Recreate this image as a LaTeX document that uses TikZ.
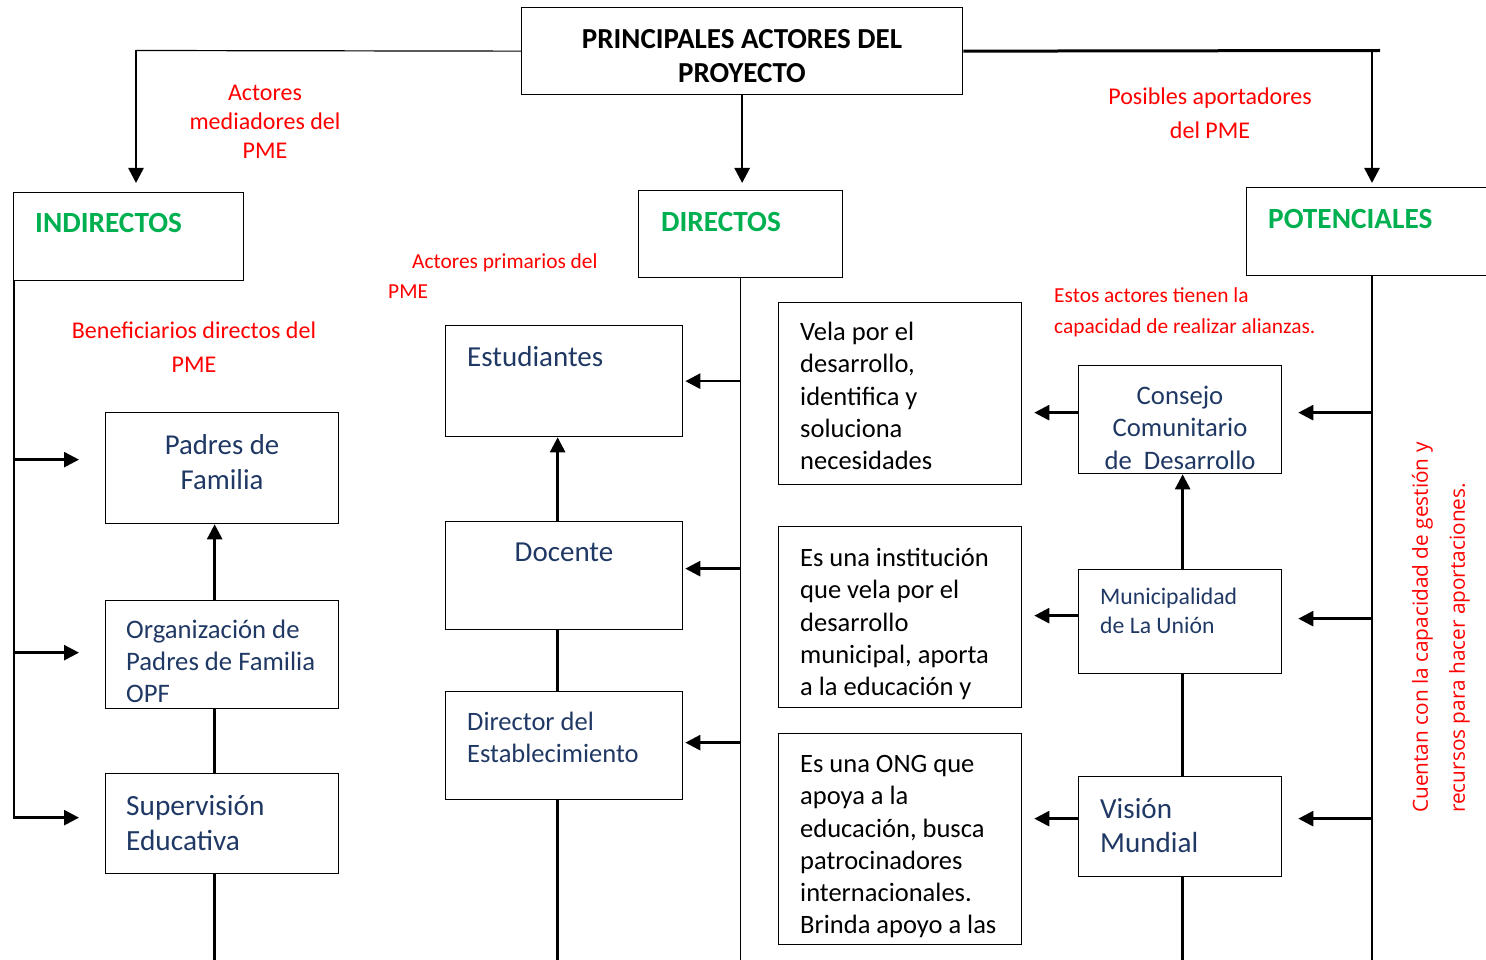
\documentclass[tikz,border=0pt]{standalone}
\usepackage{fontspec}
\setmainfont{Carlito}
\newfontfamily\sidefont{Open Sans}
\usetikzlibrary{arrows.meta}
\definecolor{actblue}{RGB}{31,56,100}
\definecolor{actgreen}{RGB}{0,176,80}
\definecolor{actred}{RGB}{255,0,0}
\tikzset{
  box/.style={draw, line width=1.3pt, inner sep=0pt, anchor=north west},
  txt/.style={inner sep=0pt, execute at begin node=\strut},
  headtext/.style={txt, align=center, font=\bfseries\fontsize{29}{34}\selectfont},
  grouptext/.style={txt, anchor=north west, text=actgreen, font=\bfseries\fontsize{29.3}{33}\selectfont},
  notetext/.style={txt, text=actred, align=center},
  actortext/.style={txt, text=actblue, align=left, anchor=north west},
  desctext/.style={txt, align=left, anchor=north west, font=\fontsize{26.5}{32.3}\selectfont},
  conn/.style={line width=2.6pt},
  arr/.style={conn, -{Triangle[length=15pt,width=15pt]}},
  bus/.style={line width=1.2pt}
}
\begin{document}
\begin{tikzpicture}[x=1pt,y=-1pt]
\useasboundingbox (0,0) rectangle (1486,960);
\coordinate (bottom) at (0,962);
% cabecera
\node[box, minimum width=441pt, minimum height=87pt] (title) at (521,7) {};
\node[headtext, anchor=north] (titlelbl) at (742,29) {PRINCIPALES ACTORES DEL\\PROYECTO};
% grupos
\node[box, minimum width=230pt, minimum height=88pt] (indir) at (13,192) {};
\node[grouptext] (indirlbl) at (35,209.3) {INDIRECTOS};
\node[box, minimum width=204pt, minimum height=87pt] (dir) at (638,190) {};
\node[grouptext] (dirlbl) at (661,208.3) {DIRECTOS};
\node[box, minimum width=260pt, minimum height=88pt] (pot) at (1246,187) {};
\node[grouptext] (potlbl) at (1268,205.3) {POTENCIALES};
% notas
\node[notetext, anchor=north, font=\fontsize{24}{29}\selectfont] (notemed) at (265,84.8) {Actores\\mediadores del\\PME};
\node[notetext, anchor=north, font=\fontsize{24}{34}\selectfont] (noteapo) at (1210,87.8) {Posibles aportadores\\del PME};
\node[notetext, anchor=north west, align=left, font=\fontsize{21.4}{30}\selectfont] (noteprim) at (388,253.7) {\hspace*{24pt}Actores primarios del\\PME};
\node[notetext, anchor=north, font=\fontsize{24}{34}\selectfont] (notebenef) at (194,321.8) {Beneficiarios directos del\\PME};
\node[notetext, anchor=north west, align=left, font=\fontsize{21.4}{31}\selectfont] (notealian) at (1054,287.7) {Estos actores tienen la\\capacidad de realizar alianzas.};
\node[notetext, anchor=north west, align=left, rotate=90, font=\sidefont\fontsize{20.8}{37}\selectfont] (notecap) at (1411.6,813) {Cuentan con la capacidad de gestión y\\recursos para hacer aportaciones.};
% actores indirectos
\node[box, minimum width=233pt, minimum height=111pt] (padres) at (105,412) {};
\node[actortext, anchor=north, align=center, font=\fontsize{28.8}{35}\selectfont] (padreslbl) at (222,434.2) {Padres de\\Familia};
\node[box, minimum width=233pt, minimum height=108pt] (opf) at (105,600) {};
\node[actortext, font=\fontsize{26.7}{32}\selectfont] (opflbl) at (126,619.9) {Organización de\\Padres de Familia\\OPF};
\node[box, minimum width=233pt, minimum height=100pt] (superv) at (105,773) {};
\node[actortext, font=\fontsize{29.3}{35}\selectfont] (supervlbl) at (126,795) {Supervisión\\Educativa};
% actores directos
\node[box, minimum width=237pt, minimum height=111pt] (estud) at (445,325) {};
\node[actortext, font=\fontsize{29}{35}\selectfont] (estudlbl) at (467,341.8) {Estudiantes};
\node[box, minimum width=237pt, minimum height=108pt] (docente) at (445,521) {};
\node[actortext, anchor=north, font=\fontsize{29}{35}\selectfont] (docentelbl) at (564,536.8) {Docente};
\node[box, minimum width=237pt, minimum height=108pt] (director) at (445,691) {};
\node[actortext, font=\fontsize{26.5}{32}\selectfont] (directorlbl) at (467,712) {Director del\\Establecimiento};
% descripciones
\node[box, minimum width=243pt, minimum height=182pt] (desc1) at (778,302) {};
\node[desctext] (desc1lbl) at (800,322) {Vela por el\\desarrollo,\\identifica y\\soluciona\\necesidades};
\node[box, minimum width=243pt, minimum height=181pt] (desc2) at (778,526) {};
\node[desctext] (desc2lbl) at (800,548) {Es una institución\\que vela por el\\desarrollo\\municipal, aporta\\a la educación y};
\node[box, minimum width=243pt, minimum height=211pt] (desc3) at (778,733) {};
\node[desctext] (desc3lbl) at (800,755) {Es una ONG que\\apoya a la\\educación, busca\\patrocinadores\\internacionales.\\Brinda apoyo a las};
% actores potenciales
\node[box, minimum width=203pt, minimum height=108pt] (consejo) at (1078,365) {};
\node[actortext, anchor=north, align=center, font=\fontsize{26.7}{32.5}\selectfont] (consejolbl) at (1180,385.9) {Consejo\\Comunitario\\de~ Desarrollo};
\node[box, minimum width=203pt, minimum height=104pt] (muni) at (1078,569) {};
\node[actortext, font=\fontsize{23.7}{29}\selectfont] (munilbl) at (1100,587.9) {Municipalidad\\de La Unión};
\node[box, minimum width=203pt, minimum height=100pt] (vision) at (1078,776) {};
\node[actortext, font=\fontsize{29.1}{34}\selectfont] (visionlbl) at (1100,798.1) {Visión\\Mundial};
% conectores de la cabecera
\coordinate (lturn) at (136,50.5);
\coordinate (rturn) at (1372,50.5);
\draw[line width=1.2pt] (title.west) -- (lturn);
\draw[arr, shorten >=9pt] (lturn) -- (lturn |- indir.north);
\draw[arr, shorten >=7pt] (title.south) -- (title.south |- dir.north);
\draw[line width=3pt] (title.east) -- ([xshift=8pt]rturn);
\draw[arr, shorten >=4pt] (rturn) -- (rturn |- pot.north);
% columna izquierda
\coordinate (lbus) at ([xshift=1pt]indir.south west);
\draw[bus] (lbus) -- ([yshift=5pt]lbus |- superv.west);
\draw[arr, shorten >=26pt] ([yshift=8.5pt]lbus |- padres.west) -- ([yshift=8.5pt]padres.west);
\draw[arr, shorten >=26pt] ([yshift=2pt]lbus |- opf.west) -- ([yshift=2pt]opf.west);
\draw[arr, shorten >=26pt] ([yshift=6pt]lbus |- superv.west) -- ([yshift=6pt]superv.west);
\draw[arr] ([xshift=-7.5pt]opf.north) -- ([xshift=-7.5pt]padres.south);
\draw[conn] ([xshift=-7.5pt]opf.south) -- ([xshift=-7.5pt]superv.north);
\draw[conn] ([xshift=-7.5pt]superv.south) -- ([xshift=-7.5pt]superv.south |- bottom);
% columna central
\draw[bus] (dir.south) -- (dir.south |- bottom);
\draw[arr, shorten >=2pt] (dir.south |- estud.east) -- (estud.east);
\draw[arr, shorten >=2pt] ([yshift=7pt]dir.south |- docente.east) -- ([yshift=7pt]docente.east);
\draw[arr, shorten >=2pt] ([yshift=3pt]dir.south |- director.east) -- ([yshift=3pt]director.east);
\draw[arr] ([xshift=-6.5pt]docente.north) -- ([xshift=-6.5pt]estud.south);
\draw[conn] ([xshift=-6.5pt]docente.south) -- ([xshift=-6.5pt]director.north);
\draw[conn] ([xshift=-6.5pt]director.south) -- ([xshift=-6.5pt]director.south |- bottom);
% columna derecha
\coordinate (rbus) at (1372,275);
\draw[bus] (rbus) -- (rbus |- bottom);
\draw[arr, shorten >=16pt] ([yshift=7pt]rbus |- consejo.east) -- ([yshift=7pt]consejo.east);
\draw[arr, shorten >=16pt] ([yshift=3pt]rbus |- muni.east) -- ([yshift=3pt]muni.east);
\draw[arr, shorten >=16pt] ([yshift=8pt]rbus |- vision.east) -- ([yshift=8pt]vision.east);
\draw[arr, shorten >=12pt] ([yshift=7pt]consejo.west) -- ([yshift=7pt]consejo.west -| desc1.east);
\draw[arr, shorten >=12pt] ([yshift=6pt]muni.west) -- ([yshift=6pt]muni.west -| desc2.east);
\draw[arr, shorten >=12pt] ([yshift=8pt]vision.west) -- ([yshift=8pt]vision.west -| desc3.east);
\draw[arr] ([xshift=2.5pt]muni.north) -- ([xshift=2.5pt]consejo.south);
\draw[conn] ([xshift=2.5pt]muni.south) -- ([xshift=2.5pt]vision.north);
\draw[conn] ([xshift=2.5pt]vision.south) -- ([xshift=2.5pt]vision.south |- bottom);
\end{tikzpicture}
\end{document}
